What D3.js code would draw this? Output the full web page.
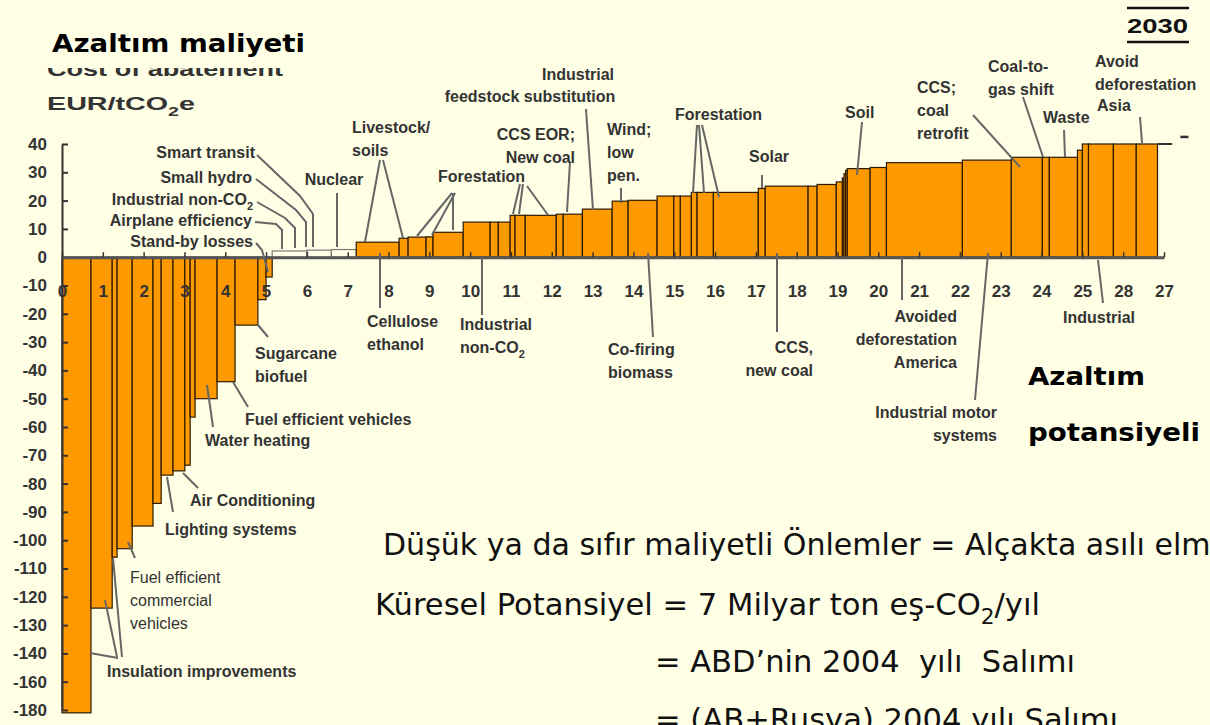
<!DOCTYPE html>
<html>
<head>
<meta charset="utf-8">
<script src="https://cdn.jsdelivr.net/npm/d3@7"></script>
<style>
body { margin: 0; background: #FFFFE6; }
svg { display: block; }
.ann { font-family: "Liberation Sans", Arial, sans-serif; font-weight: bold; font-size: 16px; fill: #333; }
.tick text { font-family: "Liberation Sans", Arial, sans-serif; font-weight: bold; font-size: 17px; fill: #333; }
</style>
</head>
<body>
<svg id="chart" width="1210" height="725"></svg>
<script>
// abatement potential (GtCO2e) start / end of every bar, and its cost (EUR/tCO2e)
var barStart = [0, 0.71, 1.23, 1.35, 1.72, 2.23, 2.43, 2.72, 3.01, 3.14, 3.26, 3.80, 4.24, 4.80, 5.00,
	5.15, 6.00, 6.60,
	7.21, 8.26, 8.48, 8.92, 9.09, 9.83, 10.49, 10.69, 10.98, 11.10, 11.35, 12.11, 12.28, 12.75,
	13.48, 13.87, 14.58, 14.99, 15.15, 15.42, 15.56, 15.96, 17.06, 17.23, 18.28, 18.50, 18.97,
	19.12, 19.16, 19.20, 19.24, 19.80, 20.20, 22.06, 23.26, 24.02, 24.19, 24.88, 25.00, 25.15, 25.76, 26.32];
var barEnd = [0.71, 1.23, 1.35, 1.72, 2.23, 2.43, 2.72, 3.01, 3.14, 3.26, 3.80, 4.24, 4.80, 5.00, 5.15,
	6.00, 6.60, 7.21,
	8.26, 8.48, 8.92, 9.09, 9.83, 10.49, 10.69, 10.98, 11.10, 11.35, 12.11, 12.28, 12.75, 13.48,
	13.87, 14.58, 14.99, 15.15, 15.42, 15.56, 15.96, 17.06, 17.23, 18.28, 18.50, 18.97, 19.12,
	19.16, 19.20, 19.24, 19.80, 20.20, 22.06, 23.26, 24.02, 24.19, 24.88, 25.00, 25.15, 25.76, 26.32, 26.84];
var barCost = [-161, -124, -106, -103, -95, -87, -77, -75.5, -73.5, -56.5, -50, -44, -24, -15, -7,
	2.2, 2.5, 2.7,
	5.3, 6.7, 7.1, 7.2, 8.8, 12.4, 12.4, 12.4, 14.8, 14.8, 14.8, 15.2, 15.2, 17,
	19.8, 20.1, 21.6, 21.6, 21.6, 22.9, 22.9, 22.9, 24.3, 25.1, 25.1, 25.7, 26.6,
	28, 29.5, 30.7, 31.3, 31.7, 33.4, 34.3, 35.3, 35.3, 35.3, 37.8, 40, 40, 40, 40];

var yTicks = [40, 30, 20, 10, 0, -10, -20, -30, -40, -50, -60, -70, -80, -90, -100, -110, -120, -130, -140, -150, -160];
var yTickLabels = ["40", "30", "20", "10", "0", "-10", "-20", "-30", "-40", "-50", "-60", "-70", "-80", "-90",
	"-100", "-110", "-120", "-130", "-140", "-160", "-180"];
var xTicks = [0, 1, 2, 3, 4, 5, 6, 7, 8, 9, 10, 11, 12, 13, 14, 15, 16, 17, 18, 19, 20, 21, 22, 23, 24, 25, 26, 27];
var xTickLabels = ["0", "1", "2", "3", "4", "5", "6", "7", "8", "9", "10", "11", "12", "13", "14", "15", "16",
	"17", "18", "19", "20", "21", "22", "23", "24", "25", "28", "27"];

// callout labels (pixel layout) and their leader lines
var labels = [
	{t: ["Smart transit"], x: 255, y: 158, a: "end"},
	{t: ["Small hydro"], x: 252, y: 183, a: "end"},
	{t: ["Industrial non-CO₂"], x: 253, y: 205, a: "end"},
	{t: ["Airplane efficiency"], x: 252, y: 226, a: "end"},
	{t: ["Stand-by losses"], x: 253, y: 247, a: "end"},
	{t: ["Nuclear"], x: 334, y: 185, a: "middle"},
	{t: ["Livestock/", "soils"], x: 352, y: 133, a: "start"},
	{t: ["Forestation"], x: 438, y: 182, a: "start"},
	{t: ["CCS EOR;", "New coal"], x: 575, y: 140, a: "end"},
	{t: ["Industrial"], x: 578, y: 80, a: "middle"},
	{t: ["feedstock substitution"], x: 530, y: 102, a: "middle"},
	{t: ["Wind;", "low", "pen."], x: 607, y: 135, a: "start"},
	{t: ["Forestation"], x: 675, y: 120, a: "start"},
	{t: ["Solar"], x: 749, y: 162, a: "start"},
	{t: ["Soil"], x: 845, y: 118, a: "start"},
	{t: ["CCS;", "coal", "retrofit"], x: 917, y: 93, a: "start"},
	{t: ["Coal-to-", "gas shift"], x: 988, y: 72, a: "start"},
	{t: ["Waste"], x: 1043, y: 123, a: "start"},
	{t: ["Avoid", "deforestation"], x: 1095, y: 67, a: "start"},
	{t: ["Asia"], x: 1097, y: 111, a: "start"},
	{t: ["Cellulose", "ethanol"], x: 367, y: 327, a: "start"},
	{t: ["Industrial", "non-CO₂"], x: 460, y: 330, a: "start"},
	{t: ["Co-firing", "biomass"], x: 608, y: 355, a: "start"},
	{t: ["CCS,", "new coal"], x: 813, y: 353, a: "end"},
	{t: ["Avoided", "deforestation", "America"], x: 957, y: 322, a: "end"},
	{t: ["Industrial motor", "systems"], x: 997, y: 418, a: "end"},
	{t: ["Industrial"], x: 1063, y: 323, a: "start"},
	{t: ["Sugarcane", "biofuel"], x: 255, y: 359, a: "start"},
	{t: ["Fuel efficient vehicles"], x: 245, y: 425, a: "start"},
	{t: ["Water heating"], x: 205, y: 446, a: "start"},
	{t: ["Air Conditioning"], x: 190, y: 506, a: "start"},
	{t: ["Lighting systems"], x: 165, y: 535, a: "start"},
	{t: ["Fuel efficient", "commercial", "vehicles"], x: 130, y: 583, a: "start", w: "normal"},
	{t: ["Insulation improvements"], x: 107, y: 677, a: "start"}
];
var leaders = [
	[[257, 155], [300, 196], [313, 214], [313, 247]],
	[[256, 179], [296, 210], [306, 222], [306, 247]],
	[[257, 202], [285, 218], [295, 228], [295, 248]],
	[[255, 222], [276, 224], [282, 230], [282, 249]],
	[[256, 243], [262, 250], [268, 272]],
	[[337, 193], [337, 247]],
	[[380, 160], [365, 242]], [[383, 160], [403, 238]],
	[[452, 193], [417, 236]], [[455, 193], [432, 235]], [[453, 193], [453, 230]],
	[[520, 184], [513, 214]], [[523, 184], [519, 214]], [[527, 186], [548, 215]],
	[[570, 162], [567, 212]],
	[[586, 109], [593, 210]],
	[[621, 188], [621, 203]],
	[[697, 125], [693, 193]], [[699, 125], [704, 193]], [[702, 125], [719, 197]],
	[[762, 175], [762, 188]],
	[[862, 122], [857, 175]],
	[[973, 115], [1020, 167]],
	[[1023, 97], [1043, 157]],
	[[1064, 130], [1065, 157]],
	[[1140, 117], [1142, 143]],
	[[380, 253], [380, 308]],
	[[482, 258], [482, 315]],
	[[648, 253], [653, 337]],
	[[777, 253], [777, 332]],
	[[902, 257], [902, 300]],
	[[988, 253], [975, 400]],
	[[1098, 260], [1103, 303]],
	[[258, 325], [268, 337]],
	[[233, 382], [248, 407]],
	[[207, 385], [213, 427]],
	[[183, 473], [198, 488]],
	[[167, 477], [173, 512]],
	[[128, 542], [135, 558]],
	[[90, 653], [118, 658]], [[105, 600], [117, 657]], [[113, 558], [122, 657]]
];

var svg = d3.select("#chart");

var x = d3.scaleLinear().domain([0, 27]).range([62, 1164]);
var y = d3.scaleLinear().domain([40, -160]).range([144, 710]);

svg.append("rect").attr("width", 1210).attr("height", 725).attr("fill", "#FFFFE6");

// writes a string into a text node, turning "₂" into a lowered small 2
function setText(sel, str, fs) {
	var shift = Math.round(fs * 0.3);
	var parts = str.split("₂");
	parts.forEach(function(p, i) {
		if (i > 0) {
			sel.append("tspan").attr("dy", shift).style("font-size", Math.round(fs * 0.7) + "px").text("2");
			sel.append("tspan").attr("dy", -shift).text(p);
		} else {
			sel.append("tspan").text(p);
		}
	});
}

// original english axis title, mostly hidden behind the turkish one
svg.append("text")
	.attr("x", 47).attr("y", 76)
	.attr("textLength", 236).attr("lengthAdjust", "spacingAndGlyphs")
	.style("font-family", "Liberation Sans, Arial, sans-serif")
	.style("font-weight", "bold").style("font-size", "20px").style("fill", "#333")
	.text("Cost of abatement");
svg.append("rect").attr("x", 30).attr("y", 0).attr("width", 300).attr("height", 68).attr("fill", "#FFFFE6");

svg.append("text")
	.attr("x", 52).attr("y", 52)
	.attr("textLength", 253).attr("lengthAdjust", "spacingAndGlyphs")
	.style("font-family", "DejaVu Sans, Verdana, sans-serif")
	.style("font-weight", "bold").style("font-size", "24px").style("fill", "#000")
	.text("Azaltım maliyeti");

var unit = svg.append("text")
	.attr("x", 47).attr("y", 110)
	.attr("textLength", 148).attr("lengthAdjust", "spacingAndGlyphs")
	.style("font-family", "Liberation Sans, Arial, sans-serif")
	.style("font-weight", "bold").style("font-size", "19px").style("fill", "#333");
setText(unit, "EUR/tCO₂e", 19);

// bars
var bars = d3.range(barCost.length).map(function(i) {
	return {x0: barStart[i], x1: barEnd[i], cost: barCost[i]};
});

svg.append("g").selectAll("rect")
	.data(bars)
	.enter().append("rect")
	.attr("x", function(d) { return x(d.x0); })
	.attr("width", function(d) { return x(d.x1) - x(d.x0); })
	.attr("y", function(d) { return d.cost >= 0 ? y(d.cost) : y(0); })
	.attr("height", function(d) { return Math.abs(y(d.cost) - y(0)); })
	.attr("fill", function(d) { return d.cost > 0 && d.cost < 4 ? "none" : "#FF9900"; })
	.attr("stroke", function(d) { return d.cost > 0 && d.cost < 4 ? "#777" : "#2a1a00"; })
	.attr("stroke-width", 1.2);

// axes
var yAxis = d3.axisLeft(y)
	.tickValues(yTicks)
	.tickFormat(function(d) { return yTickLabels[yTicks.indexOf(d)]; })
	.tickSizeInner(-6).tickSizeOuter(0).tickPadding(15);
var gy = svg.append("g").attr("transform", "translate(62,0)").call(yAxis);
gy.select(".domain").attr("stroke", "#333").attr("stroke-width", 2);
gy.selectAll(".tick line").attr("stroke", "#333").attr("stroke-width", 2);

var xAxis = d3.axisBottom(x)
	.tickValues(xTicks)
	.tickFormat(function(d) { return xTickLabels[xTicks.indexOf(d)]; })
	.tickSizeInner(-5).tickSizeOuter(0).tickPadding(28);
var gx = svg.append("g").attr("transform", "translate(0," + y(0) + ")").call(xAxis);
gx.select(".domain").attr("stroke", "#555").attr("stroke-width", 3);
gx.selectAll(".tick line").attr("stroke", "#333").attr("stroke-width", 1.5);

// end marks at the top right of the curve
svg.append("line").attr("x1", x(26.84)).attr("x2", x(27.2)).attr("y1", y(40)).attr("y2", y(40))
	.attr("stroke", "#333").attr("stroke-width", 2);
svg.append("line").attr("x1", x(27.4)).attr("x2", x(27.6)).attr("y1", y(42.5)).attr("y2", y(42.5))
	.attr("stroke", "#333").attr("stroke-width", 2.5);

// leader lines
var line = d3.line();
svg.append("g").selectAll("path")
	.data(leaders)
	.enter().append("path")
	.attr("d", line)
	.attr("fill", "none")
	.attr("stroke", "#666")
	.attr("stroke-width", 2);

// callout labels
labels.forEach(function(l) {
	l.t.forEach(function(s, j) {
		var t = svg.append("text")
			.attr("class", "ann")
			.attr("x", l.x).attr("y", l.y + j * 23)
			.attr("text-anchor", l.a)
			.style("font-weight", l.w || "bold");
		setText(t, s, 16);
	});
});

// 2030 box
svg.append("text")
	.attr("x", 1127).attr("y", 33)
	.attr("textLength", 61).attr("lengthAdjust", "spacingAndGlyphs")
	.style("font-family", "Liberation Sans, Arial, sans-serif")
	.style("font-weight", "bold").style("font-size", "21px").style("fill", "#111")
	.text("2030");
svg.append("line").attr("x1", 1127).attr("x2", 1189).attr("y1", 8).attr("y2", 8).attr("stroke", "#111").attr("stroke-width", 2.5);
svg.append("line").attr("x1", 1127).attr("x2", 1189).attr("y1", 42).attr("y2", 42).attr("stroke", "#111").attr("stroke-width", 2.5);

// right-hand axis title
svg.append("text")
	.attr("x", 1028).attr("y", 385)
	.attr("textLength", 117).attr("lengthAdjust", "spacingAndGlyphs")
	.style("font-family", "DejaVu Sans, Verdana, sans-serif")
	.style("font-weight", "bold").style("font-size", "24px").style("fill", "#000")
	.text("Azaltım");
svg.append("text")
	.attr("x", 1028).attr("y", 441)
	.attr("textLength", 172).attr("lengthAdjust", "spacingAndGlyphs")
	.style("font-family", "DejaVu Sans, Verdana, sans-serif")
	.style("font-weight", "bold").style("font-size", "24px").style("fill", "#000")
	.text("potansiyeli");

// notes below the curve
var notes = [
	{s: "Düşük ya da sıfır maliyetli Önlemler = Alçakta asılı elmalar", x: 383, y: 555, len: 885},
	{s: "Küresel Potansiyel = 7 Milyar ton eş-CO₂/yıl", x: 375, y: 615, len: 665},
	{s: "= ABD’nin 2004  yılı  Salımı", x: 655, y: 672, len: 420},
	{s: "= (AB+Rusya) 2004 yılı Salımı", x: 655, y: 730, len: 463}
];
notes.forEach(function(n) {
	var t = svg.append("text")
		.attr("x", n.x).attr("y", n.y)
		.attr("textLength", n.len).attr("lengthAdjust", "spacingAndGlyphs")
		.style("font-family", "DejaVu Sans, Verdana, sans-serif")
		.style("white-space", "pre")
		.style("font-size", "31px").style("fill", "#111");
	setText(t, n.s, 31);
});
</script>
</body>
</html>
